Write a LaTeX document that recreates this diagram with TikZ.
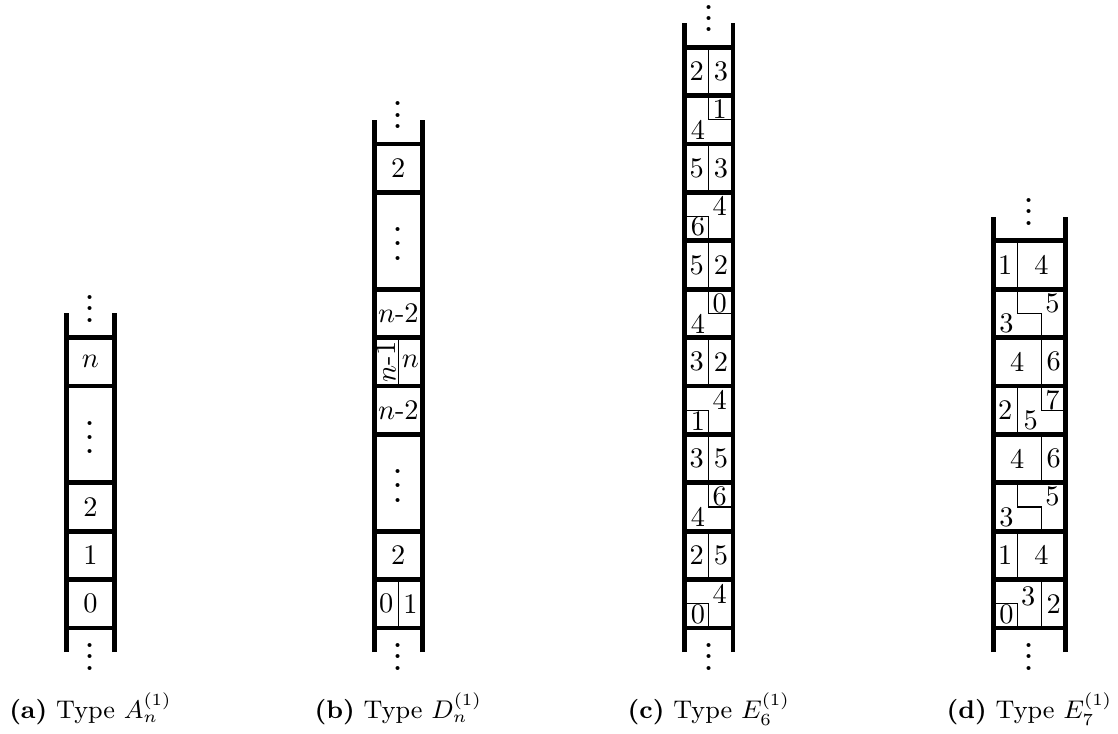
\documentclass[tikz,border=0pt]{standalone}
\usetikzlibrary{positioning}
\newcommand{\ladderdots}[1][4pt]{\vbox{\baselineskip#1\lineskiplimit0pt\hbox{.}\hbox{.}\hbox{.}}}
\begin{document}
\begin{tikzpicture}[x=0.6cm,y=0.6cm,
  every node/.style={inner sep=1pt},
  rail/.style={line width=1.7pt},
  rung/.style={line width=1.7pt},
  cut/.style={line width=0.45pt},
  lab/.style={inner xsep=2pt,inner ysep=1.3pt},
  dts/.style={inner sep=0pt,anchor=base,font=\Large},
  subcap/.style={anchor=base,font=\small}]
\useasboundingbox (0,-2.19) rectangle (23.1,12.975);
% (a) type A
\begin{scope}[shift={(1.87,0)}]
\node (a0) at (0,0.5) {0};
\node (a1) at (0,1.5) {1};
\node (a2) at (0,2.5) {2};
\node[dts] (adots) at (0,3.6) {\ladderdots[5pt]};
\node (an) at (0,5.5) {$n$};
\node[dts] (atop) at (0,6.32) {\ladderdots};
\node[dts] (abot) at (0,-0.87) {\ladderdots};
\draw[rail] (-0.5,-0.5) -- (-0.5,6.5);
\draw[rail] (0.5,-0.5) -- (0.5,6.5);
\foreach \y in {0,1,2,3,5,6} \draw[rung] (-0.5,\y) -- (0.5,\y);
\node[subcap] (acap) at (0,-1.88) {\textbf{(a)} Type $A_n^{(1)}$};
\end{scope}
% (b) type D
\begin{scope}[shift={(8.23,0)}]
\node (b0) at (-0.25,0.5) {0};
\node (b1) at (0.25,0.5) {1};
\node (b2) at (0,1.5) {2};
\node[dts] (bdots) at (0,2.6) {\ladderdots[5pt]};
\node (bnm2) at (0,4.5) {$n$-2};
\node[rotate=90] (bnm1) at (-0.25,5.5) {$n$-1};
\node (bn) at (0.25,5.5) {$n$};
\node (bnm2b) at (0,6.5) {$n$-2};
\node[dts] (bdotsb) at (0,7.6) {\ladderdots[5pt]};
\node (b2b) at (0,9.5) {2};
\node[dts] (btop) at (0,10.32) {\ladderdots};
\node[dts] (bbot) at (0,-0.87) {\ladderdots};
\draw[cut] (0,0) -- (0,1);
\draw[cut] (0,5) -- (0,6);
\draw[rail] (-0.5,-0.5) -- (-0.5,10.5);
\draw[rail] (0.5,-0.5) -- (0.5,10.5);
\foreach \y in {0,1,2,4,5,6,7,9,10} \draw[rung] (-0.5,\y) -- (0.5,\y);
\node[subcap] (bcap) at (0,-1.88) {\textbf{(b)} Type $D_n^{(1)}$};
\end{scope}
% (c) type E6
\begin{scope}[shift={(14.645,0)}]
\node[lab,anchor=south west] (c0a) at (-0.5,0) {0};
\node[lab,anchor=north east] (c0b) at (0.5,1) {4};
\node (c1a) at (-0.25,1.5) {2};
\node (c1b) at (0.25,1.5) {5};
\node[lab,anchor=north east] (c2a) at (0.5,3) {6};
\node[lab,anchor=south west] (c2b) at (-0.5,2) {4};
\node (c3a) at (-0.25,3.5) {3};
\node (c3b) at (0.25,3.5) {5};
\node[lab,anchor=south west] (c4a) at (-0.5,4) {1};
\node[lab,anchor=north east] (c4b) at (0.5,5) {4};
\node (c5a) at (-0.25,5.5) {3};
\node (c5b) at (0.25,5.5) {2};
\node[lab,anchor=north east] (c6a) at (0.5,7) {0};
\node[lab,anchor=south west] (c6b) at (-0.5,6) {4};
\node (c7a) at (-0.25,7.5) {5};
\node (c7b) at (0.25,7.5) {2};
\node[lab,anchor=south west] (c8a) at (-0.5,8) {6};
\node[lab,anchor=north east] (c8b) at (0.5,9) {4};
\node (c9a) at (-0.25,9.5) {5};
\node (c9b) at (0.25,9.5) {3};
\node[lab,anchor=north east] (c10a) at (0.5,11) {1};
\node[lab,anchor=south west] (c10b) at (-0.5,10) {4};
\node (c11a) at (-0.25,11.5) {2};
\node (c11b) at (0.25,11.5) {3};
\node[dts] (ctop) at (0,12.32) {\ladderdots};
\node[dts] (cbot) at (0,-0.87) {\ladderdots};
\foreach \y in {1,3,...,11} \draw[cut] (0,\y) -- (0,\y+1);
\foreach \y in {0,4,8} \draw[cut] (-0.5,\y+0.5) -- (0,\y+0.5) -- (0,\y);
\foreach \y in {2,6,10} \draw[cut] (0,\y+1) -- (0,\y+0.5) -- (0.5,\y+0.5);
\draw[rail] (-0.5,-0.5) -- (-0.5,12.5);
\draw[rail] (0.5,-0.5) -- (0.5,12.5);
\foreach \y in {0,...,12} \draw[rung] (-0.5,\y) -- (0.5,\y);
\node[subcap] (ccap) at (0,-1.88) {\textbf{(c)} Type $E_6^{(1)}$};
\end{scope}
% (d) type E7
\begin{scope}[shift={(21.27,0)}]
\node[lab,anchor=south west] (d0a) at (-0.75,0) {0};
\node[lab,anchor=north east,yshift=-1pt] (d0b) at (0.25,1) {3};
\node (d0c) at (0.5,0.5) {2};
\node (d1a) at (-0.5,1.5) {1};
\node (d1b) at (0.25,1.5) {4};
\node[lab,anchor=south west] (d2a) at (-0.75,2) {3};
\node[lab,anchor=north east] (d2b) at (0.75,3) {5};
\node (d3a) at (-0.25,3.5) {4};
\node (d3b) at (0.5,3.5) {6};
\node (d4a) at (-0.5,4.5) {2};
\node[lab,anchor=north east] (d4b) at (0.75,5) {7};
\node[lab,anchor=south west] (d4c) at (-0.25,4) {5};
\node (d5a) at (-0.25,5.5) {4};
\node (d5b) at (0.5,5.5) {6};
\node[lab,anchor=south west] (d6a) at (-0.75,6) {3};
\node[lab,anchor=north east] (d6b) at (0.75,7) {5};
\node (d7a) at (-0.5,7.5) {1};
\node (d7b) at (0.25,7.5) {4};
\node[dts] (dtop) at (0,8.32) {\ladderdots};
\node[dts] (dbot) at (0,-0.87) {\ladderdots};
\draw[cut] (-0.75,0.5) -- (-0.25,0.5) -- (-0.25,0);
\draw[cut] (0.25,0) -- (0.25,1);
\draw[cut] (-0.25,1) -- (-0.25,2);
\draw[cut] (-0.25,3) -- (-0.25,2.5) -- (0.25,2.5) -- (0.25,2);
\draw[cut] (0.25,3) -- (0.25,4);
\draw[cut] (-0.25,4) -- (-0.25,5);
\draw[cut] (0.25,5) -- (0.25,4.5) -- (0.75,4.5);
\draw[cut] (0.25,5) -- (0.25,6);
\draw[cut] (-0.25,7) -- (-0.25,6.5) -- (0.25,6.5) -- (0.25,6);
\draw[cut] (-0.25,7) -- (-0.25,8);
\draw[rail] (-0.75,-0.5) -- (-0.75,8.5);
\draw[rail] (0.75,-0.5) -- (0.75,8.5);
\foreach \y in {0,...,8} \draw[rung] (-0.75,\y) -- (0.75,\y);
\node[subcap] (dcap) at (0,-1.88) {\textbf{(d)} Type $E_7^{(1)}$};
\end{scope}
\end{tikzpicture}
\end{document}
